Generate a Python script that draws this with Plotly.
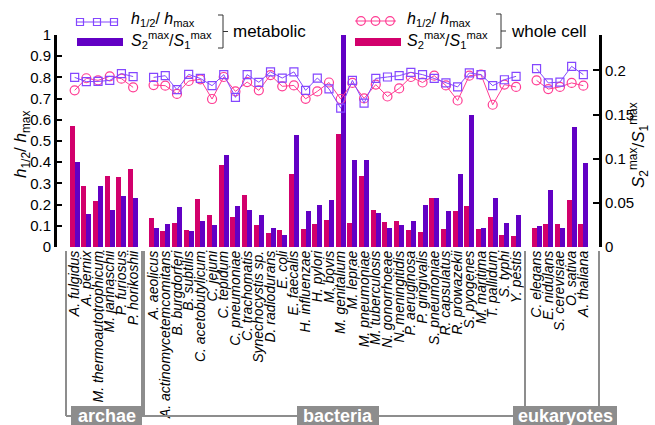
import plotly.graph_objects as go

# ---------------- data ----------------
archae = ["A. fulgidus", "A. pernix", "M. thermoautotrophicum", "M. jannaschii",
          "P. furiosus", "P. horikoshii"]
bacteria = ["A. aeolicus", "A. actinomycetemcomitans", "B. burgdorferi", "B. subtilis",
            "C. acetobutylicum", "C. jejuni", "C. tepidum", "C. pneumoniae",
            "C. trachomatis", "Synechocystis sp.", "D. radiodurans", "E. coli",
            "E. faecalis", "H. influenzae", "H. pylori", "M. bovis", "M. genitalium",
            "M. leprae", "M. pneumoniae", "M. tuberculosis", "N. gonorrhoeae",
            "N. meningitidis", "P. aeruginosa", "P. gingivalis", "S. pneumoniae",
            "R. capsulatus", "R. prowazekii", "S. pyogenes", "M. maritima",
            "T. pallidum", "S. typhi", "Y. pestis"]
eukaryotes = ["C. elegans", "E. nidulans", "S. cerevisiae", "O. sativa", "A. thaliana"]
group_names = ["archae", "bacteria", "eukaryotes"]

# S2max/S1max (right axis)
s_whole_archae = [0.137, 0.069, 0.052, 0.080, 0.079, 0.088]
s_whole_bacteria = [0.033, 0.018, 0.027, 0.019, 0.054, 0.036, 0.093, 0.034, 0.059, 0.025,
                    0.016, 0.019, 0.083, 0.020, 0.026, 0.031, 0.128, 0.027, 0.080, 0.042,
                    0.028, 0.029, 0.019, 0.017, 0.055, 0.020, 0.041, 0.046, 0.020, 0.034,
                    0.014, 0.013]
s_whole_euk = [0.021, 0.026, 0.026, 0.053, 0.026]

s_met_archae = [0.096, 0.037, 0.069, 0.042, 0.058, 0.055]
s_met_bacteria = [0.021, 0.026, 0.045, 0.018, 0.029, 0.025, 0.104, 0.046, 0.042, 0.036,
                  0.022, 0.014, 0.127, 0.041, 0.048, 0.053, 0.245, 0.099, 0.099, 0.038,
                  0.022, 0.025, 0.030, 0.047, 0.056, 0.041, 0.083, 0.150, 0.021, 0.055,
                  0.027, 0.036]
s_met_euk = [0.024, 0.064, 0.021, 0.136, 0.095]

# h1/2 / hmax (left axis)
h_met_archae = [0.800, 0.780, 0.781, 0.786, 0.818, 0.804]
h_met_bacteria = [0.800, 0.808, 0.742, 0.814, 0.795, 0.761, 0.813, 0.706, 0.813, 0.777,
                  0.826, 0.797, 0.826, 0.739, 0.797, 0.746, 0.655, 0.786, 0.679, 0.795,
                  0.802, 0.808, 0.824, 0.813, 0.795, 0.774, 0.755, 0.821, 0.813, 0.761,
                  0.789, 0.805]
h_met_euk = [0.841, 0.774, 0.778, 0.852, 0.813]

h_whole_archae = [0.739, 0.796, 0.786, 0.805, 0.794, 0.753]
h_whole_bacteria = [0.764, 0.761, 0.722, 0.783, 0.791, 0.698, 0.802, 0.734, 0.778, 0.739,
                    0.811, 0.758, 0.762, 0.699, 0.734, 0.776, 0.698, 0.774, 0.701, 0.766,
                    0.710, 0.748, 0.802, 0.776, 0.808, 0.762, 0.691, 0.808, 0.813, 0.671,
                    0.766, 0.755]
h_whole_euk = [0.786, 0.745, 0.755, 0.774, 0.761]

# ---------------- styles ----------------
C_WHOLE_BAR = "#d2006c"
C_MET_BAR = "#6200c4"
C_MET_LINE = "#8447ff"
C_WHOLE_LINE = "#ff3c93"
GREY = "#8d8d8d"
FONT = "Liberation Sans, Arial, Helvetica, sans-serif"

groups = [archae, bacteria, eukaryotes]
s_whole = [s_whole_archae, s_whole_bacteria, s_whole_euk]
s_met = [s_met_archae, s_met_bacteria, s_met_euk]
h_met = [h_met_archae, h_met_bacteria, h_met_euk]
h_whole = [h_whole_archae, h_whole_bacteria, h_whole_euk]

GAP = 0.75
xs_groups = []
start = 0.0
for g in groups:
    xs_groups.append([start + i for i in range(len(g))])
    start += len(g) + GAP

all_x = [x for xs in xs_groups for x in xs]
all_names = [n for g in groups for n in g]

fig = go.Figure()

BW = 0.43
fig.add_trace(go.Bar(x=all_x, y=[v for s in s_whole for v in s], width=BW, offset=-BW,
                     marker=dict(color=C_WHOLE_BAR, line=dict(width=0)), yaxis="y",
                     showlegend=False))
fig.add_trace(go.Bar(x=all_x, y=[v for s in s_met for v in s], width=BW, offset=0,
                     marker=dict(color=C_MET_BAR, line=dict(width=0)), yaxis="y",
                     showlegend=False))


def gapped(xs_list, ys_list):
    X, Y = [], []
    for xs, ys in zip(xs_list, ys_list):
        X += xs + [None]
        Y += ys + [None]
    return X, Y


xw, yw = gapped(xs_groups, h_whole)
fig.add_trace(go.Scatter(x=xw, y=yw, mode="lines+markers", yaxis="y2", connectgaps=False,
                         line=dict(color=C_WHOLE_LINE, width=1),
                         marker=dict(symbol="circle-open", size=9,
                                     line=dict(color=C_WHOLE_LINE, width=1.2)),
                         showlegend=False))
xm, ym = gapped(xs_groups, h_met)
fig.add_trace(go.Scatter(x=xm, y=ym, mode="lines+markers", yaxis="y2", connectgaps=False,
                         line=dict(color=C_MET_LINE, width=1),
                         marker=dict(symbol="square-open", size=8,
                                     line=dict(color=C_MET_LINE, width=1.2)),
                         showlegend=False))

# ---------------- geometry helpers (pixel -> paper) ----------------
L, R, T, B = 57, 56, 35, 178
W = 655 - L - R
H = 425 - T - B
Y0 = 425 - B


def px(x):
    return (x - L) / W


def py(y):
    return (Y0 - y) / H


shapes = []
annotations = []


def line(x0, y0, x1, y1, color, width):
    shapes.append(dict(type="line", xref="paper", yref="paper", x0=px(x0), y0=py(y0),
                       x1=px(x1), y1=py(y1), line=dict(color=color, width=width)))


def rect(x0, y0, x1, y1, fill, lcolor=None, lwidth=0):
    shapes.append(dict(type="rect", xref="paper", yref="paper", x0=px(x0), y0=py(y0),
                       x1=px(x1), y1=py(y1), fillcolor=fill,
                       line=dict(color=lcolor or fill, width=lwidth)))


def circ(cx, cy, r, color):
    shapes.append(dict(type="circle", xref="paper", yref="paper", x0=px(cx - r), y0=py(cy - r),
                       x1=px(cx + r), y1=py(cy + r), fillcolor="rgba(0,0,0,0)",
                       line=dict(color=color, width=1.2)))


def text(x, y, s, size=17, xanchor="left", color="black", angle=0):
    annotations.append(dict(xref="paper", yref="paper", x=px(x), y=py(y), text=s,
                            showarrow=False, xanchor=xanchor, yanchor="middle",
                            textangle=angle,
                            font=dict(family=FONT, size=size, color=color)))


H_TXT = "<i>h</i><sub>1/2</sub>/ <i>h</i><sub>max</sub>"
S_TXT = "<i>S</i><sub>2</sub><sup>max</sup>/<i>S</i><sub>1</sub><sup>max</sup>"

# legend: metabolic
line(76, 22, 118, 22, C_MET_LINE, 1)
for cx in (80, 97, 114):
    rect(cx - 3.5, 18.5, cx + 3.5, 25.5, "rgba(0,0,0,0)", C_MET_LINE, 1.2)
rect(77, 38, 123, 46, C_MET_BAR)
text(129, 19, H_TXT, size=16)
text(129, 40, S_TXT, size=16)
shapes.append(dict(type="path", xref="paper", yref="paper",
                   path=f"M {px(218)},{py(15)} L {px(223)},{py(15)} L {px(223)},{py(48)} "
                        f"L {px(218)},{py(48)} M {px(223)},{py(31.5)} L {px(228)},{py(31.5)}",
                   line=dict(color="#333333", width=1)))
text(231, 31, "metabolic")

# legend: whole cell
line(355, 21, 396, 21, C_WHOLE_LINE, 1)
for cx in (361, 375.5, 390):
    circ(cx, 21, 4.3, C_WHOLE_LINE)
rect(355, 38, 401, 46, C_WHOLE_BAR)
text(405, 19, H_TXT, size=16)
text(405, 40, S_TXT, size=16)
shapes.append(dict(type="path", xref="paper", yref="paper",
                   path=f"M {px(496)},{py(14)} L {px(501)},{py(14)} L {px(501)},{py(48)} "
                        f"L {px(496)},{py(48)} M {px(501)},{py(31)} L {px(506)},{py(31)}",
                   line=dict(color="#333333", width=1)))
text(509, 31, "whole cell")

# axis titles
text(22, 145, H_TXT, size=17, xanchor="center", angle=-90)
text(638, 145, S_TXT, size=17, xanchor="center", angle=-90)

# group brackets
for xv in (66, 142, 144, 525, 599):
    line(xv, 251, xv, 416, GREY, 2)
line(66, 416, 599, 416, GREY, 2)
for (x0, x1), name in zip([(71, 142), (297, 379), (513, 617)], group_names):
    rect(x0, 406, x1, 426, GREY)
    annotations.append(dict(xref="paper", yref="paper", x=px((x0 + x1) / 2), y=py(416),
                            text=f"<b>{name}</b>", showarrow=False, xanchor="center",
                            yanchor="middle",
                            font=dict(family=FONT, size=18, color="white")))

x_lo = -1.51
x_hi = 44.84

fig.update_layout(
    width=655, height=425,
    margin=dict(l=L, r=R, t=T, b=B, pad=0),
    paper_bgcolor="white", plot_bgcolor="white",
    barmode="overlay", bargap=0,
    showlegend=False,
    hovermode=False,
    font=dict(family=FONT, size=15, color="black"),
    xaxis=dict(range=[x_lo, x_hi], tickvals=all_x,
               ticktext=[f"<i>{n}</i>" for n in all_names],
               tickangle=-90, tickfont=dict(size=14, family=FONT),
               showgrid=False, zeroline=False, showline=False, ticks="",
               automargin=False),
    yaxis=dict(range=[0, 0.24], side="right", tick0=0, dtick=0.05,
               showgrid=False, zeroline=False, showline=True, linewidth=3, linecolor="black",
               ticks="inside", ticklen=6, tickwidth=2, tickcolor="black",
               tickfont=dict(size=15), automargin=False),
    yaxis2=dict(range=[0, 1], side="left", overlaying="y", tick0=0, dtick=0.1,
                showgrid=False, zeroline=False, showline=True, linewidth=3,
                linecolor="black", ticks="inside", ticklen=5, tickwidth=2,
                tickcolor="black", tickfont=dict(size=15), automargin=False),
    shapes=shapes,
    annotations=annotations,
)

fig.write_html("out.html", config={"displayModeBar": False},
               post_script="document.body.style.margin='0';document.body.style.padding='0';")
